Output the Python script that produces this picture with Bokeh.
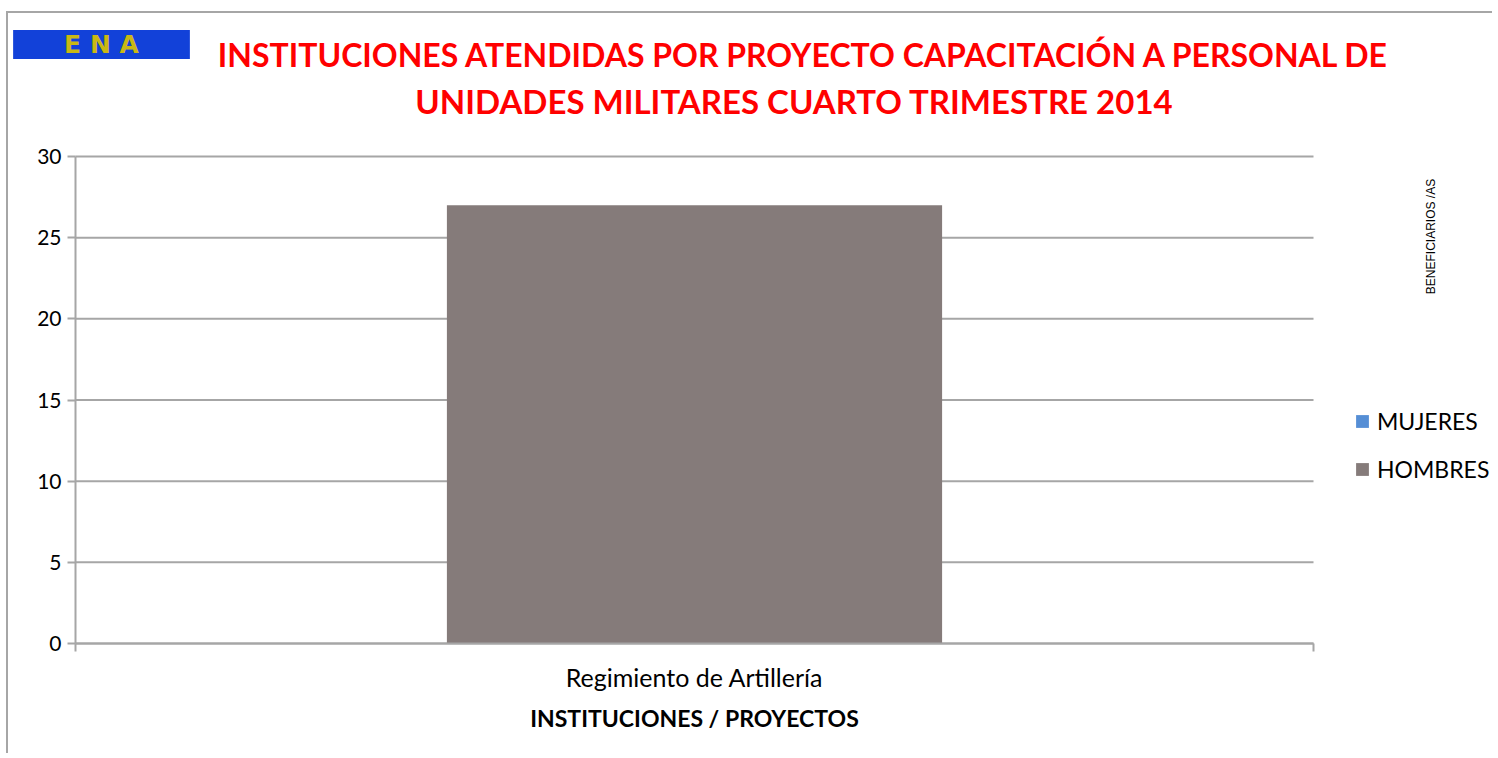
import math
from bokeh.plotting import figure
from bokeh.models import (Range1d, LinearAxis, FixedTicker, Legend, LegendItem, Label)
from bokeh.embed import file_html
from bokeh.resources import INLINE

# ---- data ----
categories = ["Regimiento de Artillería"]
series_names = ["MUJERES", "HOMBRES"]
mujeres = [0]
hombres = [27]
series_colors = ["#558ED5", "#857B7A"]
y_ticks = [0, 5, 10, 15, 20, 25, 30]
y_max = 30
title_lines = ["INSTITUCIONES ATENDIDAS POR PROYECTO CAPACITACIÓN A PERSONAL DE",
               "UNIDADES MILITARES CUARTO TRIMESTRE 2014"]
x_title = "INSTITUCIONES / PROYECTOS"
y_title = "BENEFICIARIOS /AS"
logo_text = "E N A"

# ---- layout (pixels) ----
W, H = 1486, 742
AX_LEFT, AX_W = 67, 1238      # x of the value axis, width of the category area
Y0_PX, AX_H = 630, 487        # y (from top) of the zero line, height of the 0..30 span
n = len(categories)
GRID = "#A6A6A6"
FONT = "Lato"
B = H - Y0_PX                 # frame bottom is the canvas bottom: offset for screen units

x_range = Range1d(-AX_LEFT / AX_W * n, (W - AX_LEFT) / AX_W * n)
y_range = Range1d(-(H - Y0_PX) / AX_H * y_max, Y0_PX / AX_H * y_max)

p = figure(width=W, height=H, output_backend="svg", toolbar_location=None,
           x_range=x_range, y_range=y_range,
           x_axis_location=None, y_axis_location=None,
           min_border_left=0, min_border_right=0, min_border_top=0,
           min_border_bottom=0)
p.outline_line_color = None
p.background_fill_color = "white"
p.border_fill_color = "white"
p.xgrid.visible = False
p.ygrid.visible = False
p.styles = {"border-left": "2px solid #A6A6A6", "border-top": "2px solid #A6A6A6",
            "margin-left": "6px", "margin-top": "11px"}

# horizontal gridlines across the category area
p.segment(x0=[0] * len(y_ticks), x1=[n] * len(y_ticks), y0=y_ticks, y1=y_ticks,
          line_color=GRID, line_width=2)

src = dict(x=[i + 0.5 for i in range(n)], MUJERES=mujeres, HOMBRES=hombres)
rs = p.vbar_stack(series_names, x="x", width=0.4, color=series_colors, source=src,
                  line_color=None)

# y axis, drawn at x = 0
yax = LinearAxis(ticker=FixedTicker(ticks=y_ticks), fixed_location=0, bounds=(0, y_max))
yax.axis_line_color = GRID
yax.axis_line_width = 2
yax.major_tick_line_color = GRID
yax.major_tick_line_width = 2
yax.major_tick_out = 8
yax.major_tick_in = 0
yax.minor_tick_line_color = None
yax.major_label_text_font = FONT
yax.major_label_text_font_size = "21px"
yax.major_label_text_color = "black"
yax.major_label_standoff = 6
p.add_layout(yax, "left")

# x axis with boundary ticks, drawn at y = 0
xax = LinearAxis(ticker=FixedTicker(ticks=list(range(n + 1))), fixed_location=0, bounds=(0, n))
xax.major_label_overrides = {i: "" for i in range(n + 1)}
xax.axis_line_color = GRID
xax.axis_line_width = 2
xax.major_tick_line_color = GRID
xax.major_tick_line_width = 2
xax.major_tick_out = 8
xax.major_tick_in = 0
xax.minor_tick_line_color = None
xax.major_label_text_font_size = "1px"
xax.major_label_standoff = 0
p.add_layout(xax, "below")

# x axis with category labels and axis title, drawn at y = 0
cax = LinearAxis(ticker=FixedTicker(ticks=[i + 0.5 for i in range(n)]), fixed_location=0,
                 bounds=(0, n))
cax.major_label_overrides = {i + 0.5: c for i, c in enumerate(categories)}
cax.axis_line_color = None
cax.major_tick_line_color = None
cax.minor_tick_line_color = None
cax.major_label_text_font = FONT
cax.major_label_text_font_size = "25px"
cax.major_label_text_color = "black"
cax.major_label_standoff = 12
cax.axis_label = x_title
cax.axis_label_text_font = FONT
cax.axis_label_text_font_style = "bold"
cax.axis_label_text_font_size = "23px"
cax.axis_label_text_color = "black"
cax.axis_label_standoff = 9
p.add_layout(cax, "below")

# legend (screen offsets from the frame's bottom-left corner)
legend = Legend(items=[LegendItem(label=nm, renderers=[r]) for nm, r in zip(series_names, rs)],
                location=(AX_LEFT + AX_W + 41, 160 + B), orientation="vertical")
legend.label_text_font = FONT
legend.label_text_font_size = "23px"
legend.label_text_color = "black"
legend.glyph_width = 16
legend.glyph_height = 16
legend.label_height = 20
legend.spacing = 20
legend.padding = 0
legend.margin = 0
legend.border_line_color = None
legend.background_fill_alpha = 0
legend.label_standoff = 7
p.add_layout(legend, "center")

# titles (screen units: from the frame's bottom-left corner)
for t, (tx, ty, fs) in zip(title_lines, [(796, 589, "32px"), (786, 543, "33px")]):
    p.add_layout(Label(x=tx, y=ty + B, x_units="screen", y_units="screen",
                       text=t, text_font=FONT, text_font_style="bold", text_font_size=fs,
                       text_color="#FF0000", text_align="center", text_baseline="middle"))

# logo
p.add_layout(Label(x=93, y=599 + B, x_units="screen", y_units="screen", text=logo_text,
                   text_font="DejaVu Sans", text_font_style="bold", text_font_size="25px",
                   text_color="#C9B814", text_align="center", text_baseline="middle",
                   background_fill_color="#1241D9", padding=(51, 0)))

# y title on right
p.add_layout(Label(x=1422, y=407 + B, x_units="screen", y_units="screen", text=y_title,
                   text_font="Liberation Sans", text_font_size="12px",
                   text_color="black", angle=math.pi / 2,
                   text_align="center", text_baseline="middle"))

open("out.html", "w").write(file_html(p, INLINE))
